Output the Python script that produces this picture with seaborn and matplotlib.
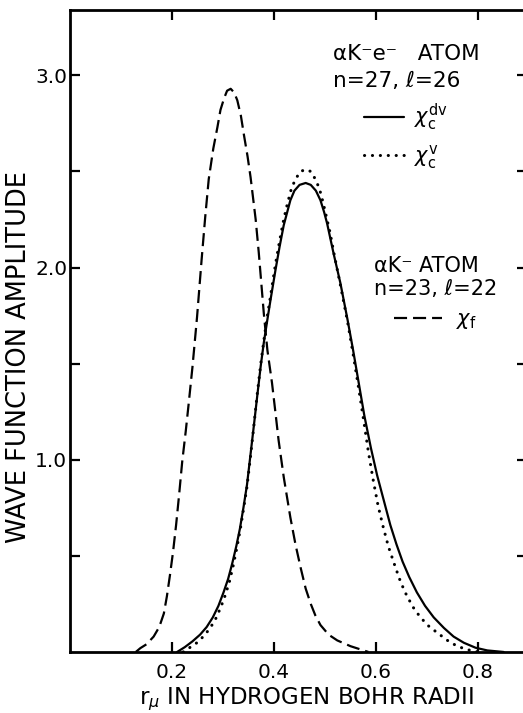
import numpy as np
import matplotlib
matplotlib.use("Agg")
import matplotlib.pyplot as plt
import seaborn as sns

# chi_f, K- atom (n=23, l=22) -- dashed curve
xf = [0.129, 0.138, 0.150, 0.164, 0.175, 0.184, 0.190, 0.196, 0.202, 0.208,
      0.214, 0.220, 0.227, 0.233, 0.240, 0.249, 0.258, 0.265, 0.272, 0.281,
      0.289, 0.295, 0.302, 0.308, 0.315, 0.322, 0.328, 0.335, 0.341, 0.348,
      0.354, 0.364, 0.370, 0.380, 0.387, 0.396, 0.403, 0.409, 0.419, 0.432,
      0.442, 0.452, 0.462, 0.472, 0.481, 0.491, 0.507, 0.524, 0.550, 0.585]
yf = [0.00, 0.02, 0.04, 0.08, 0.13, 0.20, 0.29, 0.40, 0.52, 0.66,
      0.82, 0.99, 1.15, 1.30, 1.48, 1.74, 2.04, 2.26, 2.46, 2.62,
      2.73, 2.82, 2.88, 2.92, 2.93, 2.91, 2.87, 2.79, 2.69, 2.58,
      2.47, 2.25, 2.08, 1.76, 1.57, 1.40, 1.24, 1.10, 0.91, 0.70,
      0.56, 0.44, 0.33, 0.25, 0.19, 0.14, 0.09, 0.06, 0.03, 0.00]

# chi_c^dv, K-e- atom (n=27, l=26) -- solid curve
xdv = [0.210, 0.225, 0.240, 0.255, 0.268, 0.280, 0.291, 0.301, 0.310, 0.318,
       0.326, 0.333, 0.340, 0.347, 0.354, 0.361, 0.367, 0.374, 0.380, 0.387,
       0.393, 0.403, 0.411, 0.419, 0.432, 0.440, 0.450, 0.462, 0.472, 0.482,
       0.491, 0.498, 0.504, 0.517, 0.530, 0.544, 0.555, 0.566, 0.577, 0.590,
       0.602, 0.615, 0.628, 0.640, 0.652, 0.665, 0.680, 0.696, 0.713, 0.733,
       0.752, 0.772, 0.795, 0.818, 0.850]
ydv = [0.00, 0.025, 0.055, 0.09, 0.13, 0.18, 0.24, 0.31, 0.38, 0.46,
       0.55, 0.64, 0.75, 0.87, 1.03, 1.19, 1.33, 1.49, 1.61, 1.73,
       1.83, 1.99, 2.11, 2.22, 2.35, 2.40, 2.43, 2.44, 2.43, 2.40,
       2.35, 2.29, 2.23, 2.07, 1.92, 1.73, 1.57, 1.40, 1.23, 1.06,
       0.92, 0.79, 0.66, 0.56, 0.47, 0.39, 0.31, 0.24, 0.18, 0.125,
       0.08, 0.048, 0.022, 0.008, 0.00]

# chi_c^v -- dotted curve
xv = [0.222, 0.236, 0.250, 0.263, 0.275, 0.286, 0.296, 0.305, 0.313, 0.320,
      0.327, 0.334, 0.340, 0.347, 0.354, 0.361, 0.367, 0.374, 0.380, 0.387,
      0.393, 0.403, 0.411, 0.419, 0.426, 0.434, 0.442, 0.452, 0.462, 0.472,
      0.481, 0.489, 0.496, 0.503, 0.510, 0.517, 0.530, 0.544, 0.555, 0.566,
      0.576, 0.585, 0.594, 0.604, 0.614, 0.624, 0.638, 0.648, 0.658, 0.672,
      0.687, 0.703, 0.720, 0.740, 0.759, 0.779, 0.800]
yv = [0.00, 0.025, 0.05, 0.085, 0.125, 0.175, 0.235, 0.30, 0.37, 0.45,
      0.54, 0.64, 0.74, 0.86, 1.02, 1.19, 1.34, 1.50, 1.62, 1.75,
      1.85, 2.02, 2.14, 2.25, 2.33, 2.41, 2.46, 2.50, 2.51, 2.50,
      2.46, 2.41, 2.34, 2.26, 2.18, 2.08, 1.91, 1.72, 1.55, 1.37,
      1.20, 1.04, 0.90, 0.76, 0.65, 0.55, 0.44, 0.365, 0.305, 0.235,
      0.18, 0.135, 0.10, 0.06, 0.03, 0.012, 0.00]

xticks = [0.2, 0.4, 0.6, 0.8]
xticklabels = ['0.2', '0.4', '0.6', '0.8']
yticks = [0.5, 1.0, 1.5, 2.0, 2.5, 3.0]
yticklabels = ['', '1.0', '', '2.0', '', '3.0']

sns.set_style("ticks")
plt.rcParams['font.family'] = ['DejaVu Sans']
plt.rcParams['mathtext.fontset'] = 'dejavusans'
plt.rcParams['lines.scale_dashes'] = False
for k in ['text.color', 'axes.labelcolor', 'xtick.color', 'ytick.color', 'axes.edgecolor']:
    plt.rcParams[k] = 'black'

fig = plt.figure(figsize=(5.23, 7.13), dpi=100)
ax = fig.add_axes([0.1338, 0.0856, 0.873, 0.9004])

lw = 1.6
sns.lineplot(x=xf, y=yf, ax=ax, color='black', lw=lw, linestyle=(0, (9.4, 4.3)),
             sort=False, legend=False, label=r'$\chi_{\mathrm{f}}$')
sns.lineplot(x=xdv, y=ydv, ax=ax, color='black', lw=lw,
             sort=False, legend=False, label=r'$\chi_{\mathrm{c}}^{\mathrm{dv}}$')
sns.lineplot(x=xv, y=yv, ax=ax, color='black', lw=2.2, linestyle=(0, (0.1, 5.6)),
             dash_capstyle='round', sort=False, legend=False,
             label=r'$\chi_{\mathrm{c}}^{\mathrm{v}}$')

ax.set_xlim(0, 0.895)
ax.set_ylim(0, 3.34)

ax.set_xticks(xticks)
ax.set_xticklabels(xticklabels)
ax.set_yticks(yticks)
ax.set_yticklabels(yticklabels)
ax.tick_params(direction='in', length=7.5, width=1.6, labelsize=14.5,
               top=True, right=True)
ax.tick_params(axis='x', pad=8)
ax.tick_params(axis='y', pad=2)

for s in ax.spines.values():
    s.set_linewidth(2.0)

ax.set_xlabel(r'r$_\mu$ IN HYDROGEN BOHR RADII', fontsize=16.5)
ax.set_ylabel('WAVE FUNCTION AMPLITUDE', fontsize=18.5)
ax.xaxis.set_label_coords(0.517, -0.052)
ax.yaxis.set_label_coords(-0.083, 0.46)

lines = ax.get_lines()
leg1 = ax.legend(handles=[lines[1], lines[2]],
                 title='\u03b1K\u207be\u207b   ATOM\nn=27, \u2113=26',
                 loc='upper left', bbox_to_anchor=(0.575, 0.947), frameon=False,
                 fontsize=15, title_fontsize=15.5, handlelength=1.9, handletextpad=0.5,
                 labelspacing=0.5, borderpad=0, borderaxespad=0)
leg1.get_title().set_linespacing(1.45)
ax.add_artist(leg1)
leg2 = ax.legend(handles=[lines[0]], title='\u03b1K\u207b ATOM\nn=23, \u2113=22',
                 loc='upper left', bbox_to_anchor=(0.665, 0.617), frameon=False,
                 fontsize=15, title_fontsize=15, handlelength=2.3, handletextpad=0.7,
                 borderpad=0, borderaxespad=0)
leg2._legend_handle_box.sep = 14

fig.savefig('out.png', dpi=100)
